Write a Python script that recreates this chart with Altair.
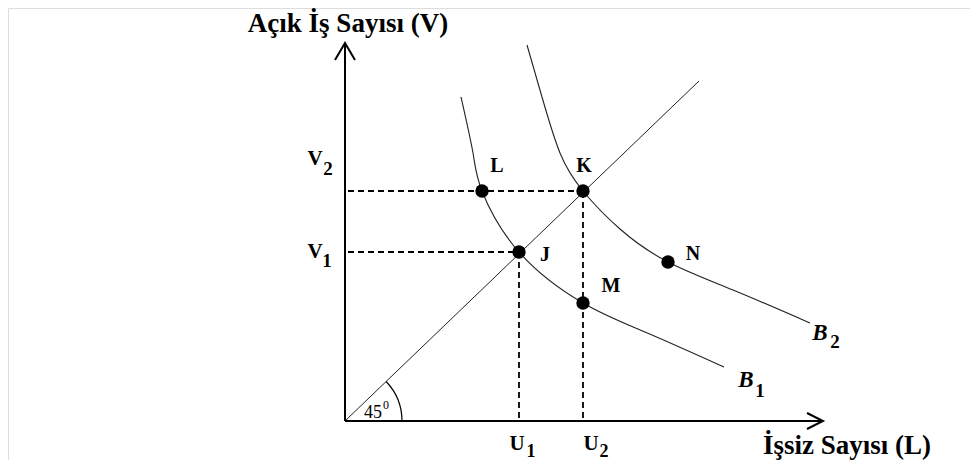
import math
import altair as alt
import pandas as pd

# ---- data (diagram units: origin at axis corner) ----
U_names = ["U1", "U2"]
U_vals = [17.4, 23.8]
V_names = ["V1", "V2"]
V_vals = [16.9, 23.0]

pt_names = ["L", "K", "J", "M", "N"]
pt_x = [13.7, 23.8, 17.4, 23.8, 32.3]
pt_y = [23.0, 23.0, 16.9, 11.8, 15.9]

b1_x = [11.6, 12.8, 13.7, 17.4, 23.8, 30.0, 37.9]
b1_y = [32.4, 26.8, 23.0, 16.9, 11.8, 8.9, 5.4]

b2_x = [18.2, 19.7, 21.5, 23.8, 27.5, 32.3, 38.8, 46.5]
b2_y = [37.6, 32.4, 26.8, 23.0, 19.2, 15.9, 13.1, 9.8]

diag_x = [0.0, 35.4]
diag_y = [0.0, 34.0]

axis_x_end = 47.8
axis_y_end = 37.8

y_title = "Açık İş Sayısı (V)"
x_title = "İşsiz Sayısı (L)"

# ---- scales ----
W, H = 962, 452
xs = alt.Scale(domain=[-33.7, 62.5], nice=False, zero=False)
ys = alt.Scale(domain=[-3.9, 41.3], nice=False, zero=False)
SERIF = "Liberation Serif"


def X(f="x"):
    return alt.X(f"{f}:Q", scale=xs, axis=None)


def Y(f="y"):
    return alt.Y(f"{f}:Q", scale=ys, axis=None)


def df(**kw):
    return pd.DataFrame(kw)


def txt(s, x, y, dx=0, dy=0, size=20, style="normal", weight="bold"):
    return alt.Chart(df(x=[x], y=[y], t=[s])).mark_text(
        dx=dx, dy=dy, fontSize=size, font=SERIF, fontWeight=weight,
        fontStyle=style, align="center", baseline="alphabetic", color="black"
    ).encode(x=X(), y=Y(), text="t:N")


layers = []

# diagonal 45 degree line
layers.append(alt.Chart(df(x=diag_x, y=diag_y)).mark_line(
    color="#222", strokeWidth=1).encode(x=X(), y=Y()))

# Beveridge curves
layers.append(alt.Chart(df(x=b1_x, y=b1_y)).mark_line(
    color="#222", strokeWidth=1.1, interpolate="natural").encode(x=X(), y=Y(), order="x:Q"))
layers.append(alt.Chart(df(x=b2_x, y=b2_y)).mark_line(
    color="#222", strokeWidth=1.1, interpolate="natural").encode(x=X(), y=Y(), order="x:Q"))

# dashed guides
hd = df(x=[0.3, 0.3], x2=[pt_x[2], pt_x[1]], y=V_vals)
layers.append(alt.Chart(hd).mark_rule(color="black", strokeWidth=1.8, strokeDash=[6, 4]).encode(
    x=X(), x2="x2:Q", y=Y()))
vd = df(x=U_vals, y=[0.3, 0.3], y2=[pt_y[2], pt_y[1]])
layers.append(alt.Chart(vd).mark_rule(color="black", strokeWidth=1.8, strokeDash=[6, 4]).encode(
    x=X(), y=Y(), y2="y2:Q"))

# axes
layers.append(alt.Chart(df(x=[0.0], y=[0.0], y2=[axis_y_end])).mark_rule(
    color="black", strokeWidth=2).encode(x=X(), y=Y(), y2="y2:Q"))
layers.append(alt.Chart(df(x=[0.0], x2=[axis_x_end], y=[0.0])).mark_rule(
    color="black", strokeWidth=2).encode(x=X(), x2="x2:Q", y=Y()))
# arrow heads
layers.append(alt.Chart(df(x=[0.0], y=[axis_y_end])).mark_point(
    shape="M -1 1.7 L 0 0 L 1 1.7", size=400, filled=False, color="black",
    strokeWidth=2, opacity=1).encode(x=X(), y=Y()))
layers.append(alt.Chart(df(x=[axis_x_end], y=[0.0])).mark_point(
    shape="M -2 -1 L 0 0 L -2 1", size=256, filled=False, color="black",
    strokeWidth=2, opacity=1).encode(x=X(), y=Y()))

# 45 degree arc
theta_diag = math.atan2(diag_x[1], diag_y[1])
layers.append(alt.Chart(df(x=[0.0], y=[0.0])).mark_arc(
    radius=57.6, radius2=56.4, theta=theta_diag, theta2=math.pi / 2,
    color="black").encode(x=X(), y=Y()))

# points
layers.append(alt.Chart(df(x=pt_x, y=pt_y)).mark_circle(
    size=180, color="black", opacity=1).encode(x=X(), y=Y()))

# point labels
pt_off = {"L": (15, -19), "K": (1, -19), "J": (26, 9), "M": (28, -11), "N": (25, -2)}
for n, x, y in zip(pt_names, pt_x, pt_y):
    dx, dy = pt_off[n]
    layers.append(txt(n, x, y, dx, dy, size=20))

# V labels
v_off = {"V1": ((-30, 6), (-18, 15)), "V2": ((-30, -26), (-17, -16))}
for n, v in zip(V_names, V_vals):
    (a, b), (c, d) = v_off[n]
    layers.append(txt(n[0], 0.0, v, a, b, size=21))
    layers.append(txt(n[1], 0.0, v, c, d, size=19))

# U labels
u_off = {"U1": ((-2, 29), (12, 36)), "U2": ((8, 29), (21, 36))}
for n, u in zip(U_names, U_vals):
    (a, b), (c, d) = u_off[n]
    layers.append(txt(n[0], u, 0.0, a, b, size=21))
    layers.append(txt(n[1], u, 0.0, c, d, size=18))

# curve labels
layers.append(txt("B", b1_x[-1], b1_y[-1], 22, 20, size=23, style="italic"))
layers.append(txt("1", b1_x[-1], b1_y[-1], 36, 30, size=19))
layers.append(txt("B", b2_x[-1], b2_y[-1], 10, 17, size=23, style="italic"))
layers.append(txt("2", b2_x[-1], b2_y[-1], 25, 25, size=19))

# 45 degree text
layers.append(txt("45", 0.0, 0.0, 28, -3, size=18, weight="normal"))
layers.append(txt("0", 0.0, 0.0, 41, -12, size=12, weight="normal"))

# axis titles
layers.append(txt(y_title, 0.0, axis_y_end, 3, -11, size=27))
layers.append(txt(x_title, axis_x_end, 0.0, 24, 33, size=27))

chart = alt.layer(*layers).properties(
    width=W, height=H, padding=0, autosize=alt.AutoSizeParams(type="none")
).configure_view(stroke=None).configure(background="white")

chart.save("out.html", embed_options={"renderer": "svg", "actions": False})
